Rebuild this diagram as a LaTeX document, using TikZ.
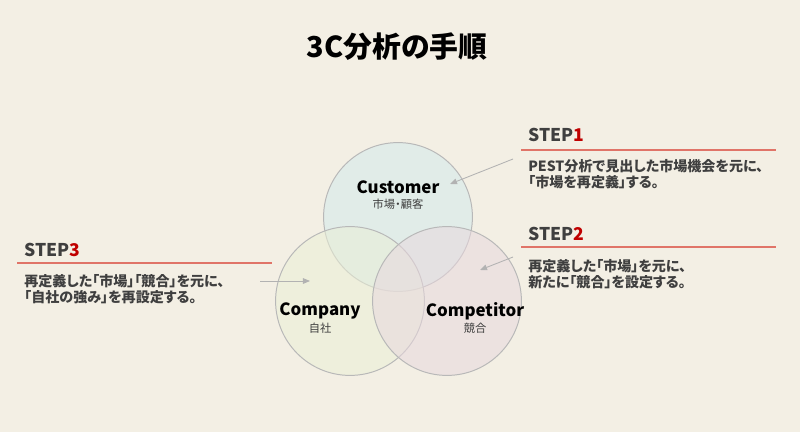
\documentclass[tikz,border=0pt]{standalone}
\usepackage{fontspec}
\setmainfont{Noto Sans CJK JP}[RawFeature=+palt]
\usetikzlibrary{arrows.meta}

\definecolor{bgcream}{HTML}{F3EFE4}
\definecolor{stepred}{HTML}{C00000}
\definecolor{rulered}{HTML}{E07468}
\definecolor{txtgray}{HTML}{3F3F3F}
\definecolor{custfill}{HTML}{D4EAEC}
\definecolor{compfill}{HTML}{EAEFD6}
\definecolor{rivalfill}{HTML}{E8D8DE}

\begin{document}
\begin{tikzpicture}[x=0.025cm,y=-0.025cm,font=\bfseries,>={Triangle[length=5pt,width=4pt]},
    venn/.style={circle,draw=black!28,line width=0.7pt,fill opacity=0.55,minimum size=3.72cm,inner sep=0pt},
    steptitle/.style={anchor=base west,inner sep=0pt,text=txtgray,font=\bfseries\fontsize{12.5}{14}\selectfont},
    stepbody/.style={anchor=north west,inner sep=0pt,align=left,text=txtgray,font=\bfseries\fontsize{10}{11.8}\selectfont},
    bigname/.style={inner sep=0pt,font=\bfseries\fontsize{12}{14}\selectfont},
    subname/.style={inner sep=0pt,text=txtgray,font=\mdseries\fontsize{8}{9}\selectfont},
    pointer/.style={->,draw=black!30,line width=0.6pt}]
    \def\xmin{0}
    \def\xmax{800}
    \def\ymin{0}
    \def\ymax{432}

    \fill[bgcream] (\xmin,\ymin) rectangle (\xmax,\ymax);
    \useasboundingbox (\xmin,\ymin) rectangle (\xmax,\ymax);

    \node[font=\bfseries\fontsize{20.5}{24}\selectfont] (title) at (397,47) {3C分析の手順};

    % three circles
    \node[venn,fill=custfill] (cust) at (398,217) {};
    \node[venn,fill=compfill] (comp) at (350,301) {};
    \node[venn,fill=rivalfill] (rival) at (447,301) {};

    \node[bigname] (custname) at (398,187) {Customer};
    \node[subname] (custsub) at (398,204) {市場・顧客};
    \node[bigname] (compname) at (320,311) {Company};
    \node[subname] (compsub) at (320,328) {自社};
    \node[bigname] (rivalname) at (475,311) {Competitor};
    \node[subname] (rivalsub) at (475,328) {競合};

    % steps
    \node[steptitle] (step1) at (528,142) {STEP\textcolor{stepred}{1}};
    \draw[rulered,line width=0.8pt] (521,150) -- (776,150);
    \node[stepbody] (body1) at (528,159) {PEST分析で見出した市場機会を元に、\\「市場を再定義」する。};

    \node[steptitle] (step2) at (528,240) {STEP\textcolor{stepred}{2}};
    \draw[rulered,line width=0.8pt] (521,247) -- (776,247);
    \node[stepbody] (body2) at (528,259) {再定義した「市場」を元に、\\新たに「競合」を設定する。};

    \node[steptitle] (step3) at (24,257) {STEP\textcolor{stepred}{3}};
    \draw[rulered,line width=0.8pt] (17,263) -- (272,263);
    \node[stepbody] (body3) at (24,274) {再定義した「市場」「競合」を元に、\\「自社の強み」を再設定する。};

    % pointers
    \coordinate (p1) at (513,159);
    \coordinate (q1) at (450,184);
    \coordinate (p2) at (513,257);
    \coordinate (q2) at (480,270);
    \coordinate (p3) at (260,281);
    \coordinate (q3) at (310,281);
    \draw[pointer] (p1) -- (q1);
    \draw[pointer] (p2) -- (q2);
    \draw[pointer] (p3) -- (q3);
\end{tikzpicture}
\end{document}
